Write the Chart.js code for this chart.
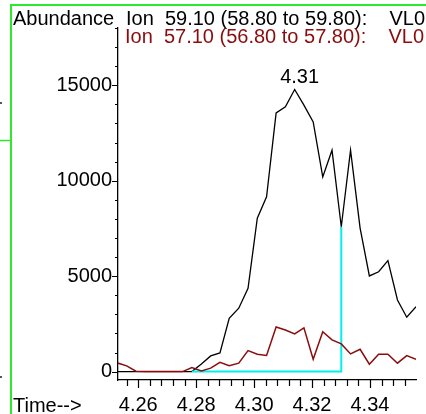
<!DOCTYPE html>
<html>
<head>
<meta charset="utf-8">
<script src="https://cdn.jsdelivr.net/npm/chart.js@4.4.0/dist/chart.umd.min.js"></script>
<style>
html, body { margin: 0; padding: 0; background: #fff; }
canvas { display: block; }
</style>
</head>
<body>
<canvas id="chromChart" width="426" height="414"></canvas>
<script>
// retention time of each scan (min)
const times = [4.2528, 4.2560, 4.2592, 4.2624, 4.2657, 4.2689, 4.2721, 4.2753,
  4.2785, 4.2818, 4.2850, 4.2882, 4.2914, 4.2947, 4.2979, 4.3011, 4.3043, 4.3076,
  4.3108, 4.3140, 4.3172, 4.3204, 4.3237, 4.3269, 4.3301, 4.3333, 4.3366, 4.3398,
  4.3430, 4.3462, 4.3495, 4.3527, 4.3559]
const ion59 = [0, 0, 0, 0, 0, 0, 0, 0,
  0, 400, 820, 980, 2790, 3320, 4360, 8040, 9160, 13550,
  13870, 14780, 13960, 13080, 10200, 11600, 7590, 11600, 7520, 5010,
  5230, 5810, 3750, 2850, 3400]
const ion57 = [455, 300, 20, 0, 0, 0, 0, 0,
  210, 30, 180, 490, 310, 440, 1100, 910, 850, 2340,
  2180, 1970, 2290, 650, 2090, 1660, 1450, 925, 1170, 390,
  910, 910, 440, 840, 650]
const seriesLabels = ['Ion  59.10 (58.80 to 59.80):    VL0', 'Ion  57.10 (56.80 to 57.80):    VL0']
const integrationTimes = [4.2785, 4.3301]
const peakLabel = '4.31'
const xTickLabels = ['4.26', '4.28', '4.30', '4.32', '4.34']
const yTickLabels = ['0', '5000', '10000', '15000']

const RED = '#8b0c0c'
const FONT = '"Liberation Sans", Arial, sans-serif'

const xTicks = []
for (let i = 0; i <= 24; i++) xTicks.push(Math.round((4.256 + i * 0.004) * 1000) / 1000)
const yTicks = []
for (let v = 0; v <= 18000; v += 1000) yTicks.push(v)

const pts = (ys) => times.map((t, i) => ({ x: t, y: ys[i] }))
const endIdx = times.indexOf(integrationTimes[1])
const baseline = [
  { x: integrationTimes[0], y: 0 },
  { x: integrationTimes[1], y: 0 },
  { x: integrationTimes[1], y: ion59[endIdx] }
]

const decor = {
  id: 'decor',
  afterDraw(chart) {
    const ctx = chart.ctx
    const a = chart.chartArea
    const x = chart.scales.x, y = chart.scales.y
    ctx.save()
    // tick marks
    ctx.strokeStyle = '#000'
    ctx.lineWidth = 1.2
    ctx.beginPath()
    yTicks.forEach(v => {
      const py = Math.round(y.getPixelForValue(v)) + 0.5
      const len = yTickLabels.includes(String(v)) ? 6 : 3
      ctx.moveTo(a.left - len, py); ctx.lineTo(a.left, py)
    })
    xTicks.forEach(v => {
      const px = Math.round(x.getPixelForValue(v)) + 0.5
      const major = xTickLabels.some(s => Math.abs(parseFloat(s) - v) < 1e-6)
      ctx.moveTo(px, a.bottom); ctx.lineTo(px, a.bottom + (major ? 8 : 6))
    })
    ctx.stroke()

    // titles and legend
    ctx.font = '20px ' + FONT
    ctx.textBaseline = 'alphabetic'
    ctx.textAlign = 'left'
    ctx.fillStyle = '#000'
    ctx.fillText('Abundance', 13, 25)
    ctx.fillText(seriesLabels[0], 126, 25)
    ctx.fillText('Time-->', 13, 412)
    ctx.fillStyle = RED
    ctx.fillText(seriesLabels[1], 125, 43)

    // apex label
    const pk = ion59.indexOf(Math.max(...ion59))
    ctx.fillStyle = '#000'
    ctx.textAlign = 'center'
    ctx.fillText(peakLabel, x.getPixelForValue(times[pk]) + 5, y.getPixelForValue(ion59[pk]) - 6)

    // green window frame
    ctx.strokeStyle = '#2ee82e'
    ctx.lineWidth = 2
    ctx.beginPath()
    ctx.moveTo(11, 414); ctx.lineTo(11, 5); ctx.lineTo(426, 5)
    ctx.stroke()
    ctx.lineWidth = 1.5
    ctx.beginPath()
    ctx.moveTo(0, 140.5); ctx.lineTo(11, 140.5)
    ctx.stroke()
    ctx.fillStyle = '#555'
    ctx.fillRect(0, 102, 2, 2)
    ctx.fillRect(0, 376, 2, 2)
    ctx.restore()
  }
}

Chart.defaults.font.family = FONT
Chart.defaults.font.size = 20
Chart.defaults.color = '#000'

new Chart(document.getElementById('chromChart'), {
  type: 'line',
  data: {
    datasets: [
      { label: seriesLabels[1], data: pts(ion57), borderColor: RED, borderWidth: 1.5, order: 0 },
      { label: 'baseline', data: baseline, borderColor: '#00f0f0', borderWidth: 2, order: 1 },
      { label: seriesLabels[0], data: pts(ion59), borderColor: '#000', borderWidth: 1.3, order: 2 }
    ]
  },
  options: {
    responsive: false,
    animation: false,
    layout: { padding: { top: 28, right: 10, left: 0, bottom: 0 } },
    elements: { point: { radius: 0 }, line: { tension: 0, fill: false } },
    plugins: { legend: { display: false }, tooltip: { enabled: false } },
    scales: {
      x: {
        type: 'linear',
        min: 4.2530,
        max: 4.3559,
        afterBuildTicks: s => { s.ticks = xTicks.map(v => ({ value: v })) },
        afterFit: s => { s.height = 34 },
        grid: { display: false, drawTicks: false },
        border: { display: true, color: '#000', width: 1.3 },
        ticks: {
          autoSkip: false, maxRotation: 0, padding: 13,
          callback: v => xTickLabels.find(s => Math.abs(parseFloat(s) - v) < 1e-6) || ''
        }
      },
      y: {
        min: -440,
        max: 18000,
        afterBuildTicks: s => { s.ticks = yTicks.map(v => ({ value: v })) },
        afterFit: s => { s.width = 118 },
        grid: { display: false, drawTicks: false },
        border: { display: true, color: '#000', width: 1.3 },
        ticks: {
          autoSkip: false, padding: 6,
          callback: v => yTickLabels.includes(String(v)) ? String(v) : ''
        }
      }
    }
  },
  plugins: [decor]
})
</script>
</body>
</html>
